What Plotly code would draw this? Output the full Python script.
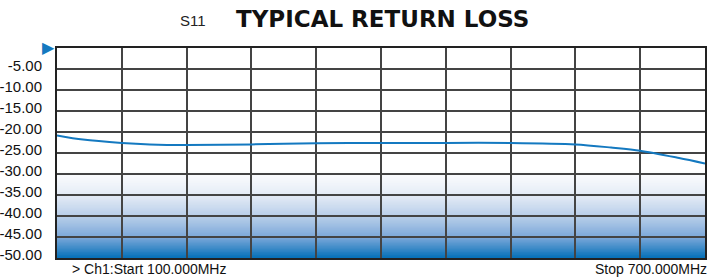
import plotly.graph_objects as go
from plotly.colors import sample_colorscale

# ---- data ----
freq_mhz = [100, 124, 160, 186, 220, 280, 340, 400, 460, 520, 580, 613, 640, 676, 700]
s11_db = [-20.8, -21.8, -22.6, -22.95, -23.1, -22.95, -22.7, -22.6, -22.6, -22.6,
          -22.95, -23.7, -24.45, -26.2, -27.5]
x_grid = [100, 160, 220, 280, 340, 400, 460, 520, 580, 640, 700]
y_ticks = [0, -5, -10, -15, -20, -25, -30, -35, -40, -45, -50]
y_ticktext = ["", "-5.00", "-10.00", "-15.00", "-20.00", "-25.00", "-30.00",
              "-35.00", "-40.00", "-45.00", "-50.00"]

BLUE = "#1479c0"
GRID = "#444444"

fig = go.Figure()
fig.add_trace(go.Scatter(
    x=freq_mhz, y=s11_db, mode="lines",
    line=dict(color=BLUE, width=2, shape="spline", smoothing=0.8),
    hoverinfo="skip", showlegend=False,
))

# gradient band (decorative background)
band_top, band_bottom, steps = -29.0, -50.0, 60
scale = [[0.0, "#ffffff"], [0.3, "#e2eaf5"], [0.55, "#b3cbe8"],
         [0.78, "#78a6d8"], [1.0, "#0872b9"]]
cols = sample_colorscale(scale, [i / (steps - 1) for i in range(steps)])
h = (band_top - band_bottom) / steps
shapes = []
for i in range(steps):
    y1 = band_top - i * h
    shapes.append(dict(type="rect", xref="x", yref="y", x0=freq_mhz[0], x1=freq_mhz[-1],
                       y0=band_bottom, y1=y1, fillcolor=cols[i],
                       line=dict(width=0), layer="below"))

fig.update_layout(
    width=707, height=277,
    margin=dict(l=57, r=2, t=48, b=19, autoexpand=False),
    paper_bgcolor="white", plot_bgcolor="white",
    shapes=shapes,
    font=dict(family="Liberation Sans, Arial, sans-serif", color="#111111"),
    xaxis=dict(range=[100, 700], tickvals=x_grid, showticklabels=False, ticks="",
               showgrid=True, gridcolor=GRID, gridwidth=1.5, zeroline=False,
               showline=True, linecolor="#222222", linewidth=2, mirror=True,
               automargin=False),
    yaxis=dict(range=[-50, 0], tickvals=y_ticks, ticktext=y_ticktext, ticks="",
               tickfont=dict(size=15, color="#111111"), ticklabelstandoff=10,
               ticklabelshift=-3, automargin=False,
               showgrid=True, gridcolor=GRID, gridwidth=1.5, zeroline=False,
               showline=True, linecolor="#222222", linewidth=2, mirror=True),
    annotations=[
        dict(text="S11", xref="paper", yref="paper", x=(193 - 57) / 648, y=1,
             yshift=28, xanchor="center", yanchor="middle", showarrow=False,
             font=dict(size=15, color="#222222")),
        dict(text="<b>TYPICAL RETURN LOSS</b>", xref="paper", yref="paper",
             x=(382 - 57) / 648, y=1, yshift=29, xanchor="center", yanchor="middle",
             showarrow=False,
             font=dict(size=23, family="DejaVu Sans, Liberation Sans, sans-serif",
                       color="#111111")),
        dict(text="▶", xref="paper", yref="y", x=0, y=0, xanchor="right",
             yanchor="middle", xshift=0, yshift=1, showarrow=False,
             font=dict(size=16, color=BLUE, family="DejaVu Sans")),
        dict(text="> Ch1:Start 100.000MHz", xref="paper", yref="paper",
             x=(70 - 57) / 648, y=0, yshift=-11, xanchor="left", yanchor="middle",
             showarrow=False, font=dict(size=14, color="#111111")),
        dict(text="Stop 700.000MHz", xref="paper", yref="paper",
             x=1, y=0, yshift=-11, xanchor="right", yanchor="middle", xshift=4,
             showarrow=False, font=dict(size=14, color="#111111")),
    ],
)

fig.write_html("out.html", config={"displayModeBar": False},
               post_script="document.body.style.margin='0px';")
